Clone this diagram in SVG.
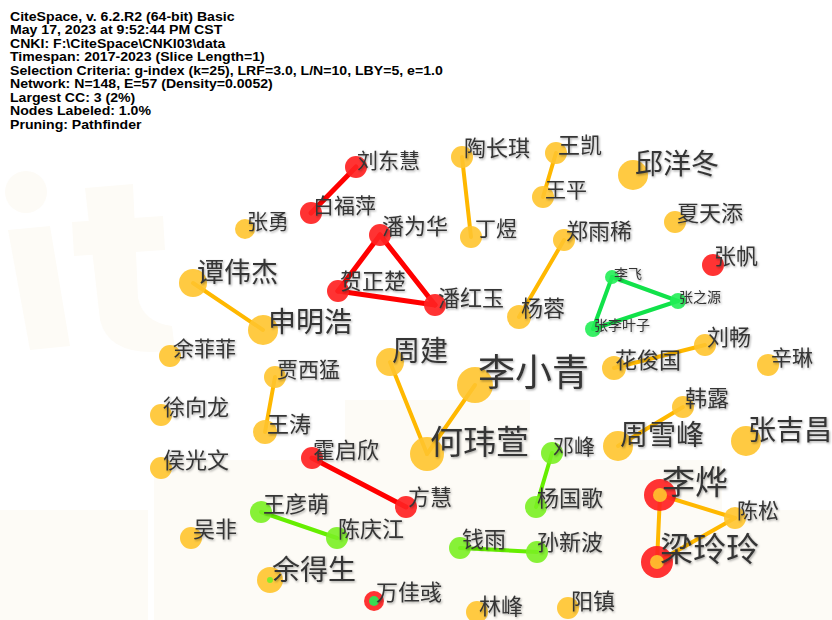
<svg xmlns="http://www.w3.org/2000/svg" width="832" height="620" viewBox="0 0 832 620">
<defs>
<filter id="sh" x="-10%" y="-20%" width="130%" height="150%">
<feDropShadow dx="1" dy="1.2" stdDeviation="0.8" flood-color="#000" flood-opacity="0.35"/>
</filter>
<style>
.hdr{font-family:"Liberation Sans",Arial,sans-serif;font-weight:bold;font-size:12.6px;fill:#000}
.lbl{font-family:"Noto Sans CJK SC","Noto Sans CJK JP",sans-serif;fill:#363636;filter:url(#sh)}
.s14{font-size:14px}.s21{font-size:21px}.s22{font-size:22px}.s27{font-size:27px}.s28{font-size:28px}.s33{font-size:33px}.s37{font-size:37px}
.y{fill:#ffc42e;fill-opacity:0.9}
.r{fill:#ff2222;fill-opacity:0.92}
.g{fill:#22ee55;fill-opacity:0.9}
.l{fill:#7af022;fill-opacity:0.9}
.ey{stroke:#ffb800;stroke-width:4;stroke-linecap:round}
.er{stroke:#ff0000;stroke-width:5;stroke-linecap:round}
.eg{stroke:#11e24a;stroke-width:4;stroke-linecap:round}
.el{stroke:#66ee00;stroke-width:4;stroke-linecap:round}
.wm{fill:#fdfbf6}
</style>
</defs>
<rect width="832" height="620" fill="#ffffff"/>
<g id="watermark">
<circle class="wm" cx="26" cy="192" r="21"/>
<polygon class="wm" points="8,230 50,226 70,346 30,350"/>
<path class="wm" d="M85,188 L133,184 L138,298 Q143,322 172,326 L175,350 Q110,360 100,320 Z"/>
<polygon class="wm" points="72,222 163,216 165,250 74,256"/>
<rect class="wm" x="0" y="510" width="148" height="110"/>
<rect class="wm" x="154" y="460" width="191" height="160"/>
<rect class="wm" x="345" y="400" width="185" height="220"/>
<rect class="wm" x="530" y="460" width="192" height="160"/>
<rect class="wm" x="722" y="510" width="110" height="110"/>
</g>
<g id="header" transform="translate(10,0) scale(1.12,1)">
<text class="hdr" x="0" y="21">CiteSpace, v. 6.2.R2 (64-bit) Basic</text>
<text class="hdr" x="0" y="34.5">May 17, 2023 at 9:52:44 PM CST</text>
<text class="hdr" x="0" y="48">CNKI: F:\CiteSpace\CNKI03\data</text>
<text class="hdr" x="0" y="61.5">Timespan: 2017-2023 (Slice Length=1)</text>
<text class="hdr" x="0" y="75">Selection Criteria: g-index (k=25), LRF=3.0, L/N=10, LBY=5, e=1.0</text>
<text class="hdr" x="0" y="88.5">Network: N=148, E=57 (Density=0.0052)</text>
<text class="hdr" x="0" y="102">Largest CC: 3 (2%)</text>
<text class="hdr" x="0" y="115.5">Nodes Labeled: 1.0%</text>
<text class="hdr" x="0" y="129">Pruning: Pathfinder</text>
</g>
<g id="connectors">
<line class="er" x1="356" y1="167" x2="311" y2="213"/>
<line class="er" x1="380" y1="235" x2="338" y2="291"/>
<line class="er" x1="380" y1="235" x2="435" y2="305"/>
<line class="er" x1="338" y1="291" x2="435" y2="305"/>
<line class="ey" x1="462" y1="157" x2="471" y2="237"/>
<line class="ey" x1="556" y1="153" x2="543" y2="197"/>
<line class="ey" x1="564" y1="240" x2="519" y2="317"/>
<line class="ey" x1="193" y1="283" x2="263" y2="330"/>
<line class="eg" x1="612" y1="277" x2="678" y2="301"/>
<line class="eg" x1="612" y1="277" x2="593" y2="329"/>
<line class="eg" x1="678" y1="301" x2="593" y2="329"/>
<line class="ey" x1="705" y1="345" x2="614" y2="368"/>
<line class="ey" x1="275" y1="377" x2="265" y2="432"/>
<line class="ey" x1="390" y1="362" x2="427" y2="454"/>
<line class="ey" x1="475" y1="385" x2="427" y2="454"/>
<line class="ey" x1="683" y1="407" x2="618" y2="446"/>
<line class="er" x1="312" y1="458" x2="406" y2="507"/>
<line class="el" x1="552" y1="453" x2="536" y2="507"/>
<line class="el" x1="261" y1="512" x2="337" y2="538"/>
<line class="el" x1="460" y1="548" x2="537" y2="552"/>
<line class="ey" x1="660" y1="495" x2="735" y2="518"/>
<line class="ey" x1="660" y1="495" x2="657" y2="562"/>
<line class="ey" x1="735" y1="518" x2="657" y2="562"/>
</g>
<g id="n-liudonghui"><circle class="r" cx="356" cy="167" r="11"/><text class="lbl s21" x="357" y="168">刘东慧</text></g>
<g id="n-baifuping"><circle class="r" cx="311" cy="213" r="11"/><text class="lbl s21" x="313" y="213">白福萍</text></g>
<g id="n-zhangyong"><circle class="y" cx="245" cy="229" r="10"/><text class="lbl s21" x="247" y="229">张勇</text></g>
<g id="n-panweihua"><circle class="r" cx="380" cy="235" r="11"/><text class="lbl s22" x="382" y="234">潘为华</text></g>
<g id="n-tanweijie"><circle class="y" cx="193" cy="283" r="14"/><text class="lbl s27" x="197" y="282">谭伟杰</text></g>
<g id="n-hezhengchu"><circle class="r" cx="338" cy="291" r="11"/><text class="lbl s22" x="340" y="289">贺正楚</text></g>
<g id="n-panhongyu"><circle class="r" cx="435" cy="305" r="11"/><text class="lbl s22" x="438" y="306">潘红玉</text></g>
<g id="n-shenminghao"><circle class="y" cx="263" cy="330" r="15"/><text class="lbl s28" x="268" y="332">申明浩</text></g>
<g id="n-taochangqi"><circle class="y" cx="462" cy="157" r="11"/><text class="lbl s22" x="464" y="156">陶长琪</text></g>
<g id="n-wangkai"><circle class="y" cx="556" cy="153" r="11"/><text class="lbl s22" x="558" y="153">王凯</text></g>
<g id="n-wangping"><circle class="y" cx="543" cy="197" r="11"/><text class="lbl s21" x="545" y="197">王平</text></g>
<g id="n-qiuyangdong"><circle class="y" cx="633" cy="175" r="15"/><text class="lbl s28" x="635" y="174">邱洋冬</text></g>
<g id="n-dingyu"><circle class="y" cx="471" cy="237" r="11"/><text class="lbl s21" x="475" y="236">丁煜</text></g>
<g id="n-zhengyuxi"><circle class="y" cx="564" cy="240" r="11"/><text class="lbl s22" x="566" y="239">郑雨稀</text></g>
<g id="n-xiatiantian"><circle class="y" cx="675" cy="222" r="11"/><text class="lbl s22" x="677" y="221">夏天添</text></g>
<g id="n-zhangfan"><circle class="r" cx="713" cy="265" r="11"/><text class="lbl s22" x="714" y="264">张帆</text></g>
<g id="n-lifei"><circle class="g" cx="612" cy="277" r="7"/><text class="lbl s14" x="614" y="279">李飞</text></g>
<g id="n-zhangzhiyuan"><circle class="g" cx="678" cy="301" r="8"/><text class="lbl s14" x="679" y="302">张之源</text></g>
<g id="n-zhanglieyezi"><circle class="g" cx="593" cy="329" r="8"/><text class="lbl s14" x="594" y="330">张李叶子</text></g>
<g id="n-yangrong"><circle class="y" cx="519" cy="317" r="12"/><text class="lbl s22" x="521" y="316">杨蓉</text></g>
<g id="n-liuchang"><circle class="y" cx="705" cy="345" r="11"/><text class="lbl s22" x="707" y="345">刘畅</text></g>
<g id="n-yufeifei"><circle class="y" cx="170" cy="356" r="11"/><text class="lbl s21" x="173" y="356">余菲菲</text></g>
<g id="n-jiaximeng"><circle class="y" cx="275" cy="377" r="11"/><text class="lbl s21" x="277" y="377">贾西猛</text></g>
<g id="n-zhoujian"><circle class="y" cx="390" cy="362" r="14"/><text class="lbl s28" x="392" y="361">周建</text></g>
<g id="n-lixiaoqing"><circle class="y" cx="475" cy="385" r="18"/><text class="lbl s37" x="478" y="386">李小青</text></g>
<g id="n-xuxianglong"><circle class="y" cx="161" cy="415" r="11"/><text class="lbl s22" x="163" y="415">徐向龙</text></g>
<g id="n-wangtao"><circle class="y" cx="265" cy="432" r="12"/><text class="lbl s22" x="267" y="432">王涛</text></g>
<g id="n-heweixuan"><circle class="y" cx="427" cy="454" r="17"/><text class="lbl s33" x="430" y="454">何玮萱</text></g>
<g id="n-huoqixin"><circle class="r" cx="312" cy="458" r="11"/><text class="lbl s22" x="313" y="458">霍启欣</text></g>
<g id="n-houguangwen"><circle class="y" cx="161" cy="468" r="11"/><text class="lbl s22" x="163" y="468">侯光文</text></g>
<g id="n-huajunguo"><circle class="y" cx="614" cy="368" r="12"/><text class="lbl s22" x="615" y="368">花俊国</text></g>
<g id="n-xinlin"><circle class="y" cx="768" cy="365" r="11"/><text class="lbl s21" x="771" y="365">辛琳</text></g>
<g id="n-hanlu"><circle class="y" cx="683" cy="407" r="11"/><text class="lbl s22" x="685" y="406">韩露</text></g>
<g id="n-zhouxuefeng"><circle class="y" cx="618" cy="446" r="15"/><text class="lbl s28" x="620" y="445">周雪峰</text></g>
<g id="n-zhangjichang"><circle class="y" cx="746" cy="441" r="15"/><text class="lbl s28" x="748" y="440">张吉昌</text></g>
<g id="n-dengfeng"><circle class="l" cx="552" cy="453" r="11"/><text class="lbl s21" x="553" y="454">邓峰</text></g>
<g id="n-liye"><circle class="r" cx="660" cy="495" r="16"/><circle class="y" cx="660" cy="495" r="7"/><text class="lbl s33" x="662" y="494">李烨</text></g>
<g id="n-chensong"><circle class="y" cx="735" cy="518" r="11"/><text class="lbl s21" x="737" y="518">陈松</text></g>
<g id="n-lianglingling"><circle class="r" cx="657" cy="562" r="16"/><circle class="y" cx="657" cy="562" r="7"/><text class="lbl s33" x="660" y="561">梁玲玲</text></g>
<g id="n-yangguoge"><circle class="l" cx="536" cy="507" r="11"/><text class="lbl s22" x="537" y="506">杨国歌</text></g>
<g id="n-fanghui"><circle class="r" cx="406" cy="507" r="11"/><text class="lbl s22" x="408" y="505">方慧</text></g>
<g id="n-wangyanmeng"><circle class="l" cx="261" cy="512" r="11"/><text class="lbl s22" x="263" y="512">王彦萌</text></g>
<g id="n-wufei"><circle class="y" cx="191" cy="538" r="11"/><text class="lbl s22" x="193" y="537">吴非</text></g>
<g id="n-chenqingjiang"><circle class="l" cx="337" cy="538" r="11"/><text class="lbl s22" x="338" y="537">陈庆江</text></g>
<g id="n-qianyu"><circle class="l" cx="460" cy="548" r="11"/><text class="lbl s22" x="462" y="547">钱雨</text></g>
<g id="n-sunxinbo"><circle class="l" cx="537" cy="552" r="11"/><text class="lbl s22" x="537" y="550">孙新波</text></g>
<g id="n-yudesheng"><circle class="y" cx="270" cy="580" r="13"/><circle class="l" cx="270" cy="580" r="3"/><text class="lbl s28" x="272" y="580">余得生</text></g>
<g id="n-wanjiayu"><circle class="r" cx="374" cy="601" r="10"/><circle class="g" cx="374" cy="601" r="5"/><text class="lbl s22" x="376" y="600">万佳彧</text></g>
<g id="n-linfeng"><circle class="y" cx="477" cy="612" r="11"/><text class="lbl s22" x="479" y="614">林峰</text></g>
<g id="n-yangzhen"><circle class="y" cx="568" cy="608" r="11"/><text class="lbl s22" x="571" y="609">阳镇</text></g>
</svg>
